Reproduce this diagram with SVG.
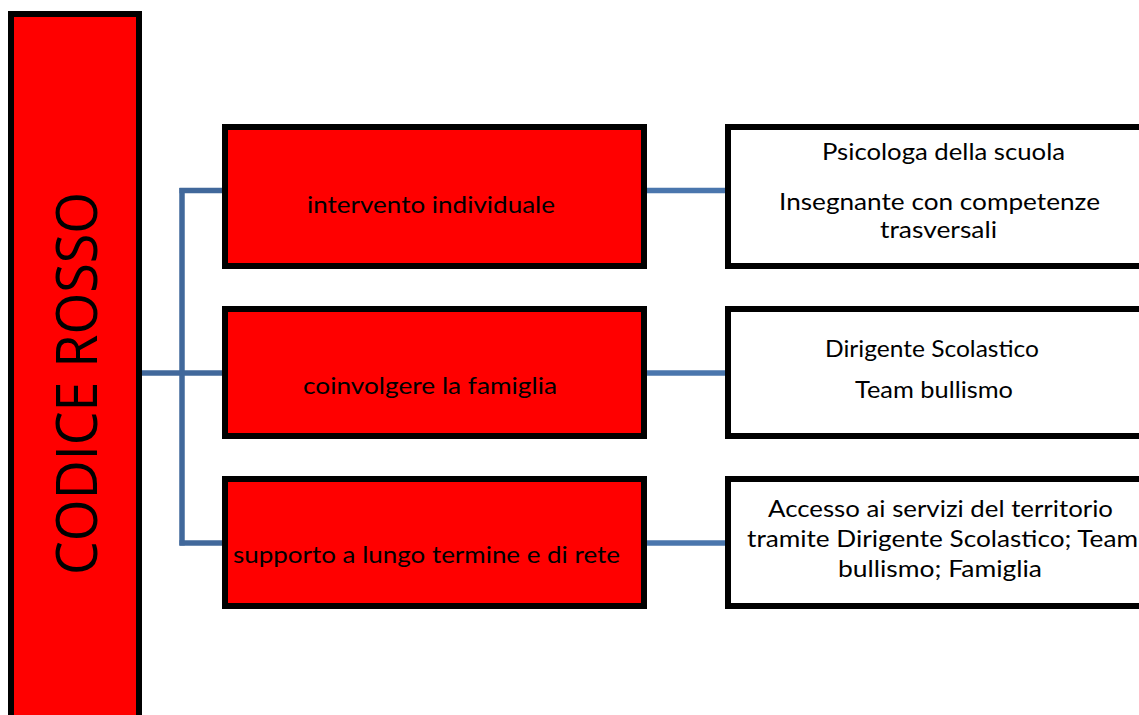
<svg xmlns="http://www.w3.org/2000/svg" width="1139" height="715" viewBox="0 0 1139 715">
  <style>
    .red { fill: #ff0000; stroke: #000000; stroke-width: 6; }
    .white { fill: #ffffff; stroke: #000000; stroke-width: 6; }
    .lbl { font-family: "Lato", "Liberation Sans", sans-serif; font-size: 24px; fill: #000000; text-anchor: middle; }
    .big { font-family: "Open Sans", "Noto Sans", sans-serif; font-size: 56px; fill: #000000; text-anchor: middle; }
    .wire { fill: none; stroke-width: 5.5; }
    .wl { stroke: #41689b; }
    .wr { stroke: #4a76ad; }
  </style>
  <rect width="1139" height="715" fill="#ffffff"/>

  <!-- connectors -->
  <g id="connectors">
    <path class="wire wl" d="M182 188 V545.5"/>
    <path class="wire wl" d="M179.5 190.5 H222"/>
    <path class="wire wl" d="M142 373 H222"/>
    <path class="wire wl" d="M179.5 543 H222"/>
    <path class="wire wr" d="M647 190.5 H725"/>
    <path class="wire wr" d="M647 373 H725"/>
    <path class="wire wr" d="M647 543 H725"/>
  </g>

  <!-- main category -->
  <g id="codice-rosso">
    <rect class="red" x="11" y="14" width="128" height="720"/>
    <text class="big" transform="translate(97 383.5) rotate(-90)" textLength="383" lengthAdjust="spacingAndGlyphs">CODICE ROSSO</text>
  </g>

  <!-- actions -->
  <g id="intervento">
    <rect class="red" x="225" y="127" width="419" height="139"/>
    <text class="lbl" x="431" y="213" textLength="248" lengthAdjust="spacingAndGlyphs">intervento individuale</text>
  </g>
  <g id="famiglia">
    <rect class="red" x="225" y="309" width="419" height="127"/>
    <text class="lbl" x="430" y="394" textLength="254" lengthAdjust="spacingAndGlyphs">coinvolgere la famiglia</text>
  </g>
  <g id="supporto">
    <rect class="red" x="225" y="479" width="419" height="127"/>
    <text class="lbl" x="426.5" y="563" textLength="387" lengthAdjust="spacingAndGlyphs">supporto a lungo termine e di rete</text>
  </g>

  <!-- responsible figures -->
  <g id="figure-intervento">
    <rect class="white" x="728" y="127" width="430" height="139"/>
    <text class="lbl" x="943.5" y="160" textLength="243" lengthAdjust="spacingAndGlyphs">Psicologa della scuola</text>
    <text class="lbl" x="939.5" y="210" textLength="321" lengthAdjust="spacingAndGlyphs">Insegnante con competenze</text>
    <text class="lbl" x="938.5" y="238" textLength="117" lengthAdjust="spacingAndGlyphs">trasversali</text>
  </g>
  <g id="figure-famiglia">
    <rect class="white" x="728" y="309" width="430" height="127"/>
    <text class="lbl" x="932" y="357" textLength="214" lengthAdjust="spacingAndGlyphs">Dirigente Scolastico</text>
    <text class="lbl" x="934" y="398" textLength="158" lengthAdjust="spacingAndGlyphs">Team bullismo</text>
  </g>
  <g id="figure-supporto">
    <rect class="white" x="728" y="479" width="430" height="127"/>
    <text class="lbl" x="940.5" y="517" textLength="345" lengthAdjust="spacingAndGlyphs">Accesso ai servizi del territorio</text>
    <text class="lbl" x="942.5" y="547" textLength="391" lengthAdjust="spacingAndGlyphs">tramite Dirigente Scolastico; Team</text>
    <text class="lbl" x="940" y="577" textLength="204" lengthAdjust="spacingAndGlyphs">bullismo; Famiglia</text>
  </g>
</svg>
